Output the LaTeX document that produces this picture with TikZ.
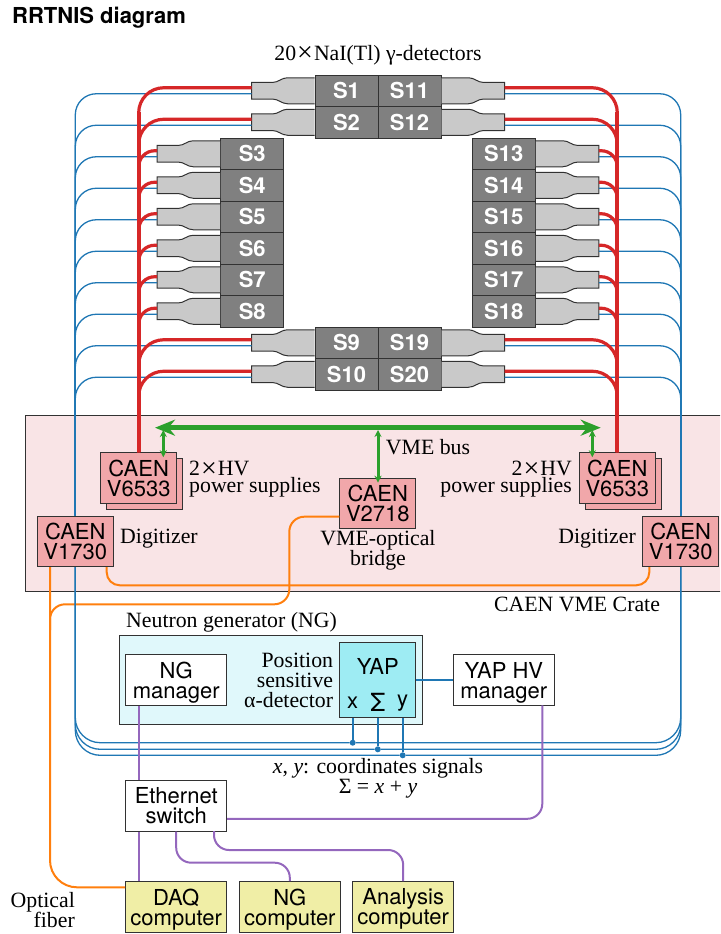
\documentclass[tikz,border=0pt]{standalone}
\usepackage{fontspec}
\usepackage{xcolor}
\usepackage{tikz}
\usetikzlibrary{arrows.meta, positioning, calc}
\setmainfont{Liberation Serif}
\setsansfont{TeX Gyre Heros}
\definecolor{cablered}{RGB}{214, 39, 40}
\definecolor{cablegreen}{RGB}{44, 160, 44}
\definecolor{cableblue}{RGB}{31, 119, 180}
\definecolor{cableorange}{RGB}{255, 127, 14}
\definecolor{cablepurple}{RGB}{148, 103, 189}
\definecolor{cratefill}{RGB}{249, 228, 230}
\definecolor{caenfill}{RGB}{241, 167, 170}
\definecolor{ngfill}{RGB}{224, 248, 251}
\definecolor{yapfill}{RGB}{158, 236, 243}
\definecolor{pcfill}{RGB}{240, 238, 166}
\definecolor{edgegray}{RGB}{50, 50, 50}
\newcommand{\bigcross}{\kern1pt{\fontsize{28}{20}\selectfont\raisebox{-1.5pt}{×}}\kern1pt}
\tikzset{
    detbox/.style={draw=edgegray, fill=black!50, line width=1pt, minimum width=63pt, minimum height=31.5pt, inner sep=0pt, text=white, font=\sffamily\bfseries\fontsize{22}{22}\selectfont},
    caenbox/.style={draw=edgegray, fill=caenfill, line width=1pt, minimum width=76pt, minimum height=50.6pt, inner sep=0pt, align=center, text depth=0pt, font=\sffamily\fontsize{22}{20}\selectfont},
    whitebox/.style={draw=edgegray, fill=white, line width=1pt, minimum width=101pt, minimum height=50.6pt, inner sep=0pt, align=center, text depth=0pt, font=\sffamily\fontsize{22}{20}\selectfont},
    pcbox/.style={whitebox, fill=pcfill},
    sanstext/.style={inner sep=0pt, font=\sffamily\fontsize{22}{20}\selectfont},
    seriftext/.style={inner sep=0pt, font=\fontsize{21.8}{20}\selectfont},
    hvline/.style={cablered, line width=3.2pt},
    sigline/.style={cableblue, line width=1.3pt},
    fiberline/.style={cableorange, line width=2pt},
    netline/.style={cablepurple, line width=2pt},
    tapline/.style={cablegreen, line width=3pt, {Stealth[length=7pt,width=7pt]}-{Stealth[length=7pt,width=7pt]}},
    sigdot/.style={circle, fill=cableblue, minimum size=6pt, inner sep=0pt},
    pmt/.pic={
        \draw[draw=edgegray, fill=black!21, line width=1pt] (0,-13) -- (-27,-13) .. controls (-33,-13) and (-36,-8.3) .. (-42,-8.3) -- (-63,-8.3) -- (-63,8.3) -- (-42,8.3) .. controls (-36,8.3) and (-33,13) .. (-27,13) -- (0,13);
        \coordinate (-hv) at (-63,-3);
        \coordinate (-sig) at (-63,3);
    },
}

\begin{document}
\begin{tikzpicture}[x=1pt, y=-1pt]
    \useasboundingbox (0,0) rectangle (720,934);
    \clip (0,0) rectangle (720,934);

    \node[anchor=west, inner sep=0pt, font=\sffamily\bfseries\fontsize{22}{22}\selectfont] (title) at (12,18) {RRTNIS diagram};
    \node[seriftext] (arraylabel) at (378,55) {20\bigcross NaI(Tl) γ-detectors};

    % crate and neutron generator
    \draw[draw=edgegray, fill=cratefill, line width=1pt] (25,415) rectangle (724,591.7);
    \draw[draw=edgegray, fill=ngfill, line width=1pt] (119.7,635.7) rectangle (422,724);

    % detectors
    \foreach \n/\cx/\cy in {1/346.5/90.75, 2/346.5/122.25, 3/252.2/153.75, 4/252.2/185.25, 5/252.2/216.75, 6/252.2/248.25, 7/252.2/279.75, 8/252.2/311.25, 9/346.5/342.75, 10/346.5/374.25} {
        \node[detbox] (S\n) at (\cx,\cy) {S\n};
        \pic (pmt\n) at (S\n.west) {pmt};
    }
    \foreach \n/\cx/\cy in {11/409.5/90.75, 12/409.5/122.25, 13/503.8/153.75, 14/503.8/185.25, 15/503.8/216.75, 16/503.8/248.25, 17/503.8/279.75, 18/503.8/311.25, 19/409.5/342.75, 20/409.5/374.25} {
        \node[detbox] (S\n) at (\cx,\cy) {S\n};
        \pic[xscale=-1] (pmt\n) at (S\n.east) {pmt};
    }

    % VME modules
    \node[caenbox] (hvlback) at (144.7,484) {};
    \node[caenbox] (hvl) at (138.7,478) {CAEN\\V6533};
    \node[caenbox] (hvrback) at (623.3,484) {};
    \node[caenbox] (hvr) at (617.3,478) {CAEN\\V6533};
    \node[caenbox] (dgl) at (75.3,541.3) {CAEN\\V1730};
    \node[caenbox] (dgr) at (680.7,541.3) {CAEN\\V1730};
    \node[caenbox] (bridge) at (377.8,503.5) {CAEN\\V2718};

    % neutron generator parts
    \node[whitebox] (ngmgr) at (176.2,680) {NG\\manager};
    \node[whitebox] (yaphv) at (503.8,680) {YAP HV\\manager};
    \node[caenbox, fill=yapfill, minimum height=75.4pt] (yap) at (377.8,680) {};
    \node[sanstext] (yaplabel) at (377.8,666) {YAP};
    \node[sanstext] (yapx) at (352.7,703) {x};
    \node[sanstext, font=\sffamily\fontsize{25}{20}\selectfont] (yapsum) at (377.8,702) {Σ};
    \node[sanstext] (yapy) at (402.7,703) {y};
    \node[sigdot] (dotx) at (yapx |- 0,742.7) {};
    \node[sigdot] (dotsum) at (yapsum |- 0,749.3) {};
    \node[sigdot] (doty) at (yapy |- 0,755.3) {};

    % network and computers
    \node[whitebox] (eth) at (176.2,805.8) {Ethernet\\switch};
    \node[pcbox] (daq) at (176.2,906.8) {DAQ\\computer};
    \node[pcbox] (ngpc) at (289.8,906.8) {NG\\computer};
    \node[pcbox] (anapc) at (403.2,906.8) {Analysis\\computer};

    % optical fibers
    \draw[fiberline, rounded corners=27pt] ([xshift=-25.3pt]dgl.south) |- ([yshift=19.5pt]daq.west);
    \draw[fiberline, rounded corners=15pt] ([yshift=-13.2pt]bridge.west) -- (289.3,516.7) -- (289.3,604.3) -- (50,604.3) -- (50,630);
    \draw[fiberline, rounded corners=13pt] ([xshift=31.4pt]dgl.south) |- (649.3,585.3) -- ([xshift=-31.4pt]dgr.south);

    % signal cables
    \foreach \n in {1,...,10} {
        \draw[sigline, rounded corners=21pt] (pmt\n-sig) -| (dgl.north);
    }
    \foreach \n in {11,...,20} {
        \draw[sigline, rounded corners=21pt] (pmt\n-sig) -| (dgr.north);
    }
    \draw[sigline, rounded corners=25pt] (dgl.south) |- (dotx) -| (dgr.south);
    \draw[sigline, rounded corners=25pt] (dgl.south) |- (dotsum) -| (dgr.south);
    \draw[sigline, rounded corners=25pt] (dgl.south) |- (doty) -| (dgr.south);
    \draw[sigline, line width=1.8pt] (dotx) -- (dotx |- yap.south);
    \draw[sigline, line width=1.8pt] (dotsum) -- (dotsum |- yap.south);
    \draw[sigline, line width=1.8pt] (doty) -- (doty |- yap.south);
    \draw[sigline] (yap) ++(37.9,0) -- (yaphv.west);

    % HV cables
    \draw[hvline, line width=4pt] (hvl.north) -- (hvl.north |- 0,112);
    \draw[hvline, line width=4pt] (hvr.north) -- (hvr.north |- 0,112);
    \foreach \n in {1,2,9,10} {
        \draw[hvline, rounded corners=25pt] (pmt\n-hv) -| (hvl.north);
    }
    \foreach \n in {3,...,8} {
        \draw[hvline, rounded corners=16pt] (pmt\n-hv) -| (hvl.north);
    }
    \foreach \n in {11,12,19,20} {
        \draw[hvline, rounded corners=25pt] (pmt\n-hv) -| (hvr.north);
    }
    \foreach \n in {13,...,18} {
        \draw[hvline, rounded corners=16pt] (pmt\n-hv) -| (hvr.north);
    }

    % VME bus
    \coordinate (busl) at (155,427.7);
    \coordinate (busr) at (600.7,427.7);
    \draw[cablegreen, line width=4.5pt, {Stealth[length=20pt,width=16pt]}-{Stealth[length=20pt,width=16pt]}] (busl) -- (busr);
    \coordinate (tapl) at (163.3,430);
    \coordinate (tapc) at (378,430);
    \coordinate (tapr) at (592.3,430);
    \draw[tapline, shorten >=-5pt] (tapl) -- (tapl |- hvl.north);
    \draw[tapline, shorten >=-5pt] (tapc) -- (tapc |- bridge.north);
    \draw[tapline, shorten >=-5pt] (tapr) -- (tapr |- hvr.north);

    % ethernet
    \draw[netline] (ngmgr.south -| 138.7,0) -- (eth.north -| 138.7,0);
    \draw[netline] (eth.south -| 138.7,0) -- (daq.north -| 138.7,0);
    \draw[netline, rounded corners=15pt] (eth.south) |- (289.8,862.7) -- (ngpc.north);
    \draw[netline, rounded corners=15pt] (214,831.1) |- (403.2,850) -- (anapc.north);
    \draw[netline, rounded corners=15pt] ([yshift=-13pt]eth.east) -| (542.3,705.3);

    % labels
    \node[seriftext, anchor=west] (vmelabel) at (385.7,446.7) {VME bus};
    \node[seriftext, anchor=west, align=left, font=\fontsize{21.8}{17}\selectfont] (hvllabel) at (189,479.5) {2\bigcross HV\\power supplies};
    \node[seriftext, anchor=east, align=right, font=\fontsize{21.8}{17}\selectfont] (hvrlabel) at (572,479.5) {2\bigcross HV\\power supplies};
    \node[seriftext, anchor=west] (dgllabel) at (120,539) {Digitizer};
    \node[seriftext, anchor=east] (dgrlabel) at (636,539) {Digitizer};
    \node[seriftext, align=center] (bridgelabel) at (378,550.5) {VME-optical\\bridge};
    \node[seriftext] (cratelabel) at (577,604) {CAEN VME Crate};
    \node[seriftext, anchor=west] (nglabel) at (126,622) {Neutron generator (NG)};
    \node[seriftext, anchor=east, align=right] (yaptext) at (333.3,680) {Position\\sensitive\\α-detector};
    \node[seriftext, align=center] (coordlabel) at (378,778.5) {\textit{x}, \textit{y}: coordinates signals\\Σ = \textit{x} + \textit{y}};
    \node[seriftext, anchor=east, align=right] (fiberlabel) at (75,910) {Optical\\fiber};
\end{tikzpicture}
\end{document}
